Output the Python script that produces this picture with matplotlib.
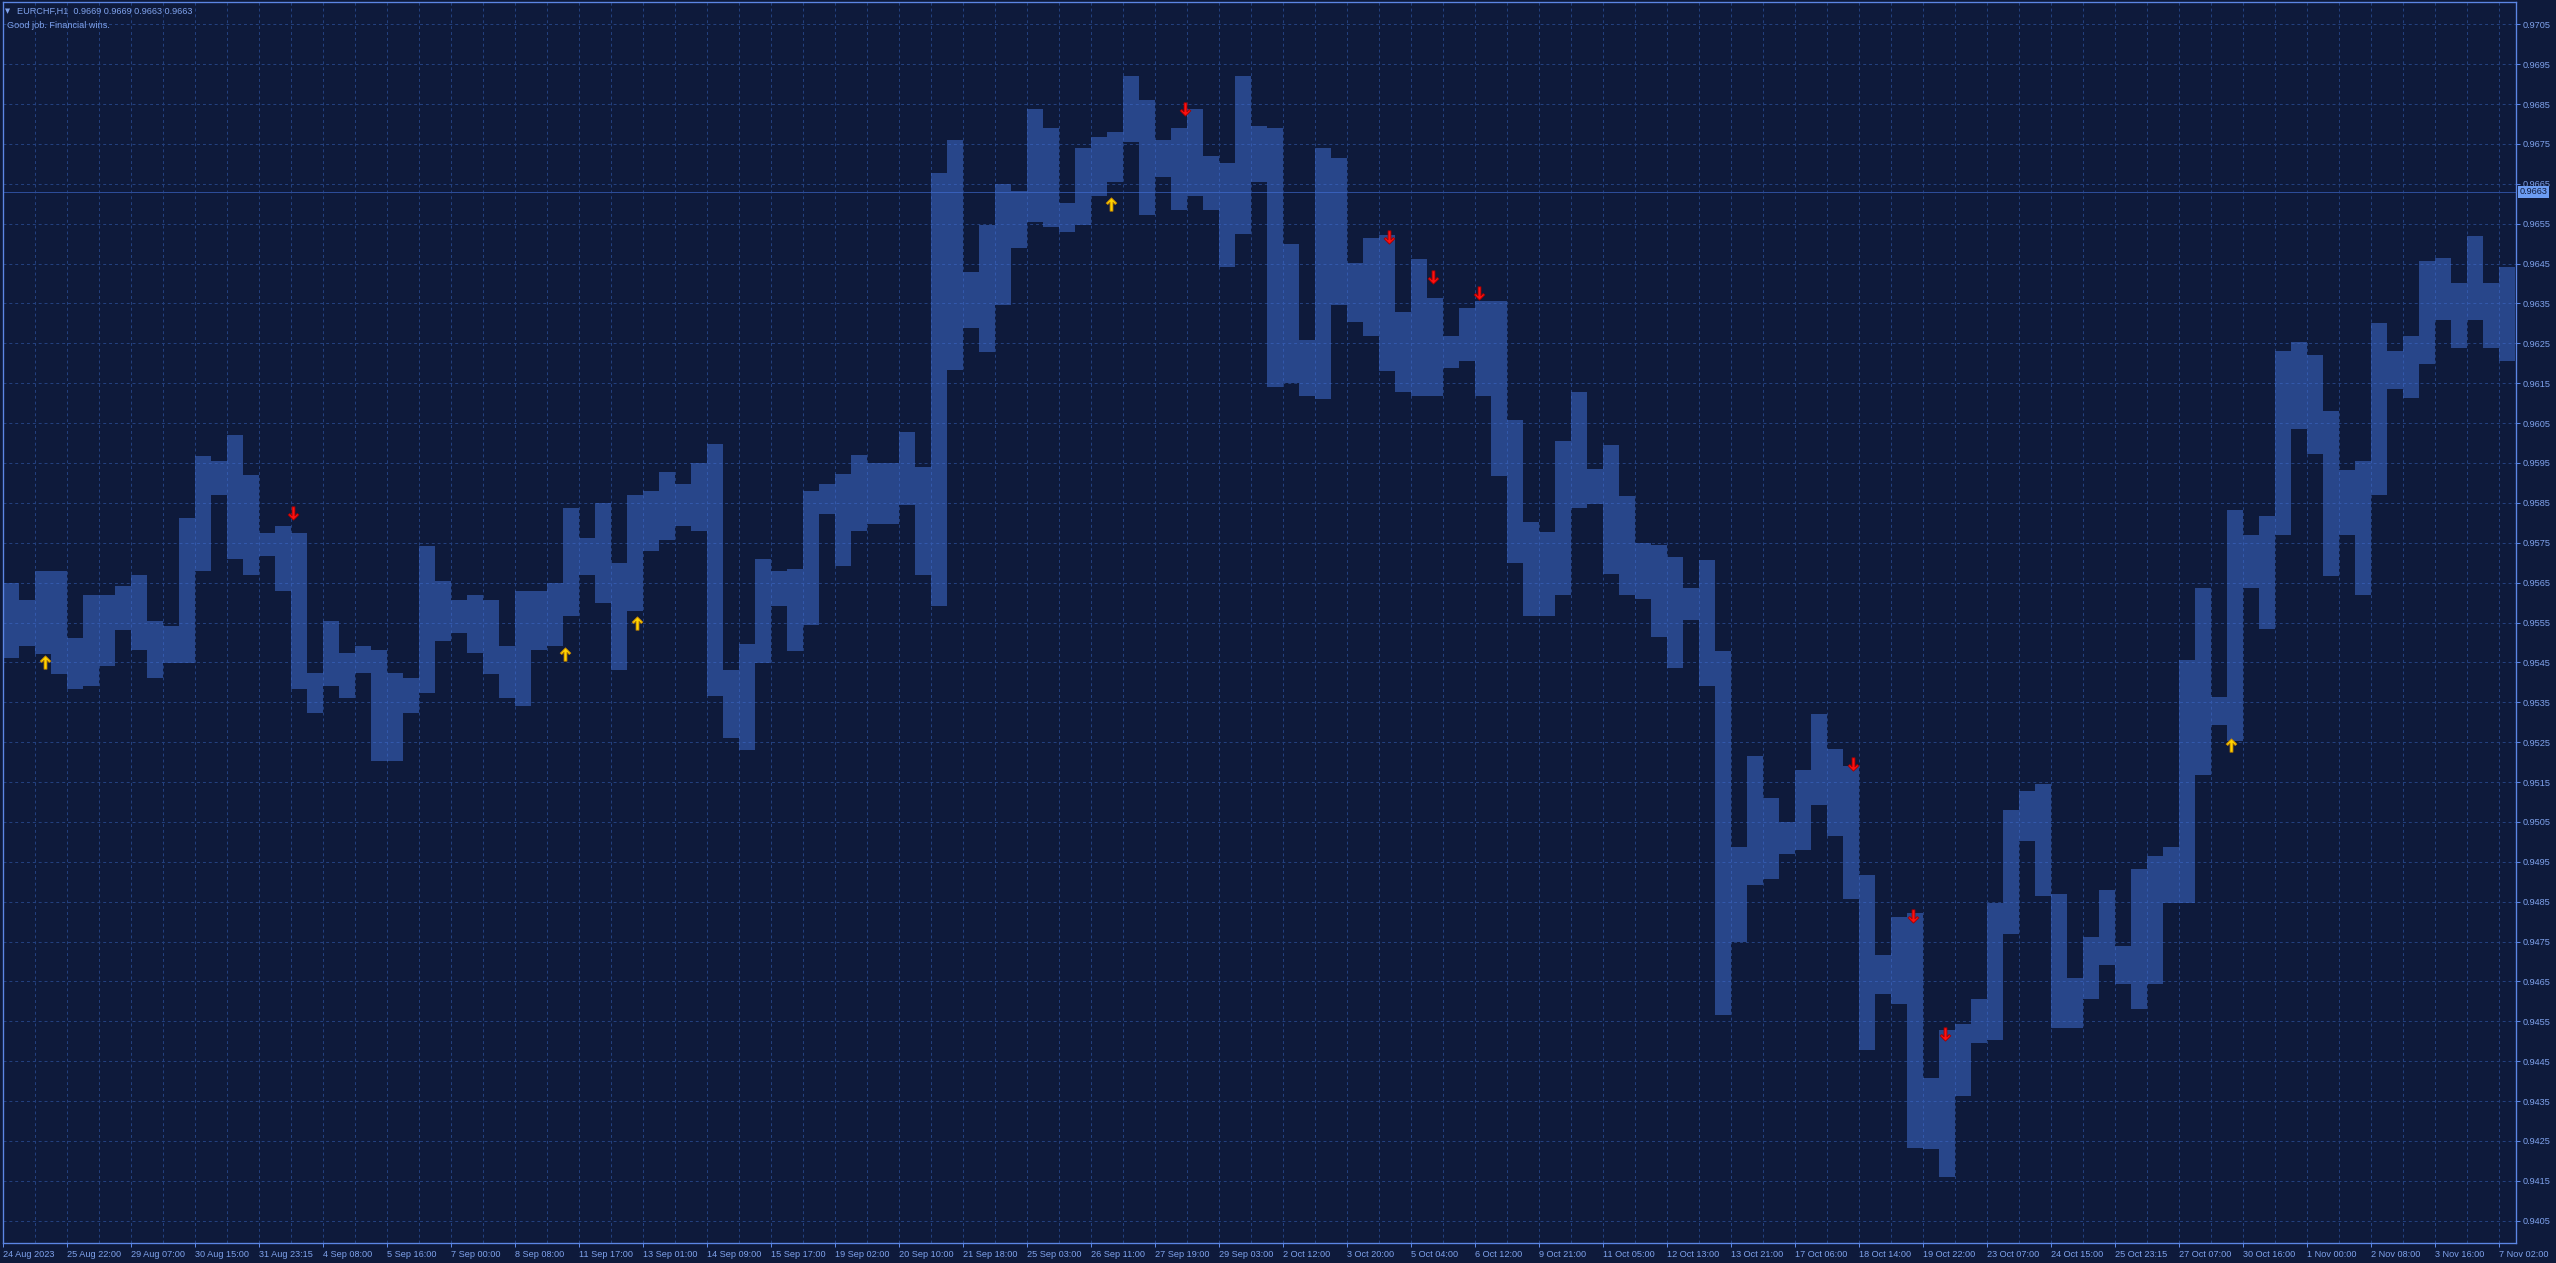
import numpy as np
import matplotlib
matplotlib.use("Agg")
import matplotlib.pyplot as plt
from matplotlib.path import Path

# EURCHF H1 -- high / low of every block of 8 hourly bars
BLOCK = 8
highs = [0.95649, 0.95607, 0.95680, 0.95680, 0.95511, 0.95620, 0.95620, 0.95641,
         0.95670, 0.95553, 0.95541, 0.95812, 0.95968, 0.95954, 0.96021, 0.95921,
         0.95774, 0.95791, 0.95774, 0.95424, 0.95553, 0.95474, 0.95491, 0.95482,
         0.95424, 0.95411, 0.95741, 0.95653, 0.95607, 0.95620, 0.95607, 0.95491,
         0.95628, 0.95628, 0.95649, 0.95837, 0.95762, 0.95850, 0.95699, 0.95870,
         0.95880, 0.95928, 0.95898, 0.95951, 0.95998, 0.95431, 0.95496, 0.95709,
         0.95679, 0.95685, 0.95880, 0.95898, 0.95922, 0.95969, 0.95951, 0.95951,
         0.96028, 0.95939, 0.96678, 0.96761, 0.96430, 0.96548, 0.96649, 0.96631,
         0.96838, 0.96790, 0.96601, 0.96740, 0.96767, 0.96779, 0.96920, 0.96861,
         0.96761, 0.96790, 0.96838, 0.96720, 0.96702, 0.96920, 0.96796, 0.96790,
         0.96500, 0.96259, 0.96741, 0.96715, 0.96452, 0.96513, 0.96522, 0.96329,
         0.96461, 0.96364, 0.96268, 0.96338, 0.96355, 0.96355, 0.96057, 0.95803,
         0.95777, 0.96005, 0.96127, 0.95934, 0.95996, 0.95868, 0.95750, 0.95745,
         0.95715, 0.95636, 0.95706, 0.95478, 0.94987, 0.95215, 0.95110, 0.95049,
         0.95180, 0.95321, 0.95233, 0.95189, 0.94917, 0.94715, 0.94812, 0.94821,
         0.94409, 0.94527, 0.94542, 0.94605, 0.94847, 0.95081, 0.95128, 0.95144,
         0.94870, 0.94659, 0.94761, 0.94878, 0.94738, 0.94933, 0.94964, 0.94988,
         0.95456, 0.95636, 0.95363, 0.95831, 0.95769, 0.95816, 0.96230, 0.96253,
         0.96222, 0.96081, 0.95933, 0.95956, 0.96300, 0.96230, 0.96269, 0.96456,
         0.96464, 0.96402, 0.96519, 0.96402, 0.96441]
lows = [0.95461, 0.95491, 0.95470, 0.95420, 0.95382, 0.95390, 0.95440, 0.95532,
        0.95482, 0.95411, 0.95449, 0.95449, 0.95678, 0.95870, 0.95708, 0.95670,
        0.95716, 0.95628, 0.95382, 0.95324, 0.95390, 0.95361, 0.95424, 0.95203,
        0.95203, 0.95324, 0.95374, 0.95503, 0.95524, 0.95474, 0.95420, 0.95361,
        0.95340, 0.95482, 0.95491, 0.95566, 0.95670, 0.95599, 0.95432, 0.95578,
        0.95730, 0.95756, 0.95792, 0.95780, 0.95366, 0.95260, 0.95230, 0.95449,
        0.95591, 0.95478, 0.95543, 0.95821, 0.95691, 0.95780, 0.95798, 0.95798,
        0.95845, 0.95668, 0.95591, 0.96182, 0.96288, 0.96229, 0.96347, 0.96489,
        0.96554, 0.96542, 0.96530, 0.96548, 0.96619, 0.96655, 0.96755, 0.96572,
        0.96666, 0.96584, 0.96619, 0.96584, 0.96442, 0.96525, 0.96655, 0.96140,
        0.96150, 0.96119, 0.96110, 0.96347, 0.96303, 0.96268, 0.96180, 0.96127,
        0.96119, 0.96119, 0.96189, 0.96206, 0.96119, 0.95917, 0.95698, 0.95566,
        0.95566, 0.95619, 0.95838, 0.95847, 0.95671, 0.95619, 0.95610, 0.95514,
        0.95435, 0.95557, 0.95391, 0.94566, 0.94750, 0.94891, 0.94908, 0.94970,
        0.94979, 0.95092, 0.95014, 0.94856, 0.94479, 0.94619, 0.94593, 0.94233,
        0.94230, 0.94159, 0.94363, 0.94495, 0.94503, 0.94769, 0.95003, 0.94863,
        0.94534, 0.94534, 0.94605, 0.94691, 0.94644, 0.94581, 0.94644, 0.94847,
        0.94847, 0.95167, 0.95292, 0.95253, 0.95636, 0.95534, 0.95769, 0.96034,
        0.95972, 0.95667, 0.95769, 0.95620, 0.95870, 0.96136, 0.96113, 0.96198,
        0.96308, 0.96238, 0.96308, 0.96238, 0.96206]

# signal arrows (bar index, price)
buy_bars = [21, 281, 317, 554, 1114]
buy_prices = [0.95450, 0.95470, 0.95550, 0.96600, 0.95243]
sell_bars = [145, 591, 693, 715, 738, 925, 955, 971]
sell_prices = [0.95825, 0.96837, 0.96516, 0.96416, 0.96376, 0.95194, 0.94814, 0.94518]

last_price = 0.9663
header = "EURCHF,H1  0.9669 0.9669 0.9663 0.9663"
comment = "Good job. Financial wins."

date_labels = ["24 Aug 2023", "25 Aug 22:00", "29 Aug 07:00", "30 Aug 15:00", "31 Aug 23:15",
               "4 Sep 08:00", "5 Sep 16:00", "7 Sep 00:00", "8 Sep 08:00", "11 Sep 17:00",
               "13 Sep 01:00", "14 Sep 09:00", "15 Sep 17:00", "19 Sep 02:00", "20 Sep 10:00",
               "21 Sep 18:00", "25 Sep 03:00", "26 Sep 11:00", "27 Sep 19:00", "29 Sep 03:00",
               "2 Oct 12:00", "3 Oct 20:00", "5 Oct 04:00", "6 Oct 12:00", "9 Oct 21:00",
               "11 Oct 05:00", "12 Oct 13:00", "13 Oct 21:00", "17 Oct 06:00", "18 Oct 14:00",
               "19 Oct 22:00", "23 Oct 07:00", "24 Oct 15:00", "25 Oct 23:15", "27 Oct 07:00",
               "30 Oct 16:00", "1 Nov 00:00", "2 Nov 08:00", "3 Nov 16:00", "7 Nov 02:00"]

BG = "#0E1A3B"
BAR = "#4372DA"
GRID = "#23407E"
EDGE = "#5C86E4"
TXT = "#7FA2EC"

plt.rcParams['font.family'] = ['Liberation Sans', 'DejaVu Sans']
plt.rcParams['hatch.linewidth'] = 0.75
plt.rcParams['lines.scale_dashes'] = False

W, H, DPI = 2556, 1263, 96
fig = plt.figure(figsize=(W / DPI, H / DPI), dpi=DPI)
fig.patch.set_facecolor(BG)
ax = fig.add_axes([3.4 / W, 20 / H, (2515.7 - 3.4) / W, 1241 / H])
ax.set_facecolor(BG)

nbars = (2515.7 - 3.4) / 2
ax.set_xlim(0, nbars)
ax.set_ylim(0.93994, 0.97106)

# grid
dash = (0, (2.2, 2.2))
for b in np.arange(16, nbars, 16):
    ax.axvline(b, color=GRID, lw=0.75, ls=dash, zorder=1)
price_ticks = np.round(np.arange(0.9405, 0.97051, 0.001), 4)
for p in price_ticks:
    ax.axhline(p, color=GRID, lw=0.75, ls=dash, zorder=1)

# bar envelope, hatched with 1px vertical lines like the hourly bars
hi = np.array(highs)
lo = np.array(lows)
x0 = np.arange(len(hi)) * BLOCK
ax.bar(x0, hi - lo, bottom=lo, width=BLOCK, align='edge', facecolor='none',
       edgecolor=BAR, linewidth=0, hatch='|' * 8, zorder=2)

# current price line
ax.axhline(last_price, color="#2C4C98", lw=0.75, zorder=1.5)

# arrows
up = Path([(0, 1), (0.8, 0.2), (0.55, 0.0), (0.22, 0.35), (0.22, -1), (-0.22, -1),
           (-0.22, 0.35), (-0.55, 0.0), (-0.8, 0.2), (0, 1)], closed=True)
down = Path([(x, -y) for x, y in up.vertices], closed=True)
ax.plot(buy_bars, buy_prices, ls='none', marker=up, ms=10, mfc="#FFD400",
        mec="#C08000", mew=0.6, zorder=4)
ax.plot(sell_bars, sell_prices, ls='none', marker=down, ms=10, mfc="#FF1010",
        mec="#A00000", mew=0.6, zorder=4)

# axes styling
for s in ax.spines.values():
    s.set_color(EDGE)
    s.set_linewidth(1.0)
ax.yaxis.tick_right()
ax.set_yticks(price_ticks)
ax.set_yticklabels([f"{p:.4f}" for p in price_ticks])
ax.tick_params(axis='y', colors=EDGE, labelcolor=TXT, labelsize=6.8, length=3,
               width=0.75, pad=2)
xt = np.arange(len(date_labels)) * 32
ax.set_xticks(xt)
ax.set_xticklabels(date_labels, ha='left')
ax.tick_params(axis='x', colors=EDGE, labelcolor=TXT, labelsize=6.8, length=3,
               width=0.75, pad=2)

ax.annotate(f"{last_price:.4f}", xy=(1, last_price), xycoords=('axes fraction', 'data'),
            xytext=(3, 0), textcoords='offset points', ha='left', va='center',
            fontsize=6.8, color=BG, zorder=6,
            bbox=dict(boxstyle='square,pad=0.15', fc="#6C9CF2", ec='none'))

# header
fig.text(8 / W, 1 - 11 / H, "\u25BC", fontsize=5, color=TXT, va='center',
         ha='center', family=['DejaVu Sans'])
fig.text(17 / W, 1 - 11 / H, header, fontsize=6.8, color=TXT, va='center')
fig.text(7 / W, 1 - 25 / H, comment, fontsize=6.8, color=TXT, va='center')

fig.savefig("out.png", dpi=DPI, facecolor=BG)
